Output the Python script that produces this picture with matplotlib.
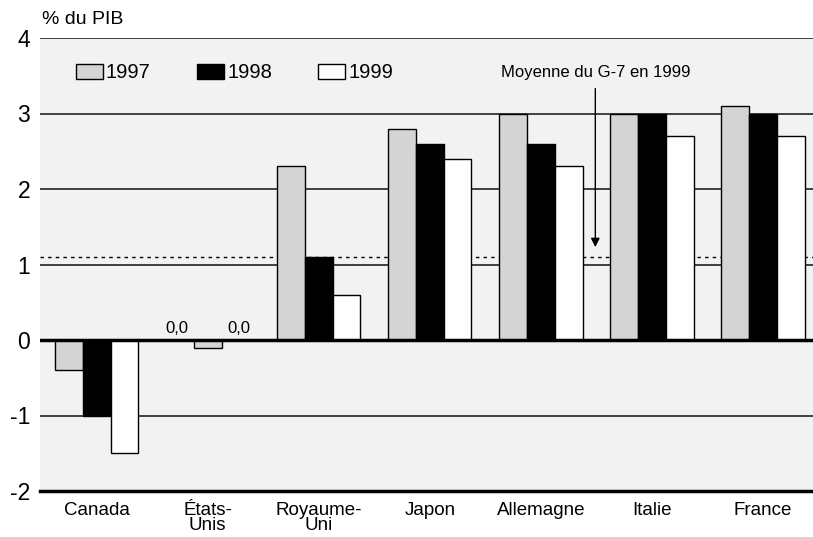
import matplotlib.pyplot as plt
import numpy as np

plt.rcParams['font.family'] = ['Liberation Sans', 'DejaVu Sans']
plt.rcParams['axes.unicode_minus'] = False

pays = ['Canada', 'États-\nUnis', 'Royaume-\nUni', 'Japon', 'Allemagne', 'Italie', 'France']
annees = ['1997', '1998', '1999']
v1997 = [-0.4, 0.0, 2.3, 2.8, 3.0, 3.0, 3.1]
v1998 = [-1.0, -0.1, 1.1, 2.6, 2.6, 3.0, 3.0]
v1999 = [-1.5, 0.0, 0.6, 2.4, 2.3, 2.7, 2.7]
moyenne_g7 = 1.1

couleurs = ['#d4d4d4', 'black', 'white']
series = [v1997, v1998, v1999]

fig = plt.figure(figsize=(8.13, 5.37), dpi=100)
ax = fig.add_axes([40/813, 1 - 491/537, 1 - 40/813, 453/537])
ax.set_facecolor('#f2f2f2')

x = np.arange(len(pays))
w = 0.25
barres = []
for i, (vals, c) in enumerate(zip(series, couleurs)):
    b = ax.bar(x + (i - 1) * w, vals, w, color=c, edgecolor='black', linewidth=1,
               label=annees[i], zorder=3)
    barres.append(b)
# dans l'original, la barre des États-Unis en 1998 est grise
barres[1][1].set_facecolor(couleurs[0])

# lignes horizontales
for y in [-1, 1, 2, 3, 4]:
    ax.axhline(y, color='#222222', linewidth=1.2, zorder=1)
ax.axhline(0, color='black', linewidth=2.5, zorder=4)
ax.axhline(moyenne_g7, color='black', linewidth=1, linestyle=(0, (2.5, 3)), zorder=2)

# valeurs nulles des États-Unis
for i, vals in enumerate(series):
    if vals[1] == 0:
        ax.text(x[1] + (i - 1) * w + (i - 1) * 0.03, 0.05, '0,0', ha='center', va='bottom',
                fontsize=12)

ax.annotate('Moyenne du G-7 en 1999', xy=(4.49, 1.23), xytext=(4.49, 3.54),
            ha='center', va='center', fontsize=12,
            arrowprops=dict(arrowstyle='-|>', color='black', lw=1, mutation_scale=13,
                            shrinkA=4, shrinkB=0))

ax.set_xlim(-0.51, 6.45)
ax.set_ylim(-2, 4)
ax.set_yticks([-2, -1, 0, 1, 2, 3, 4])
ax.set_xticks(x)
ax.set_xticklabels(pays, fontsize=13.5, linespacing=0.85)
ax.tick_params(axis='both', length=0)
ax.tick_params(axis='y', labelsize=16.5, pad=7)
ax.tick_params(axis='x', pad=8)

for s in ['left', 'right', 'top']:
    ax.spines[s].set_visible(False)
ax.spines['bottom'].set_linewidth(2.5)

fig.text(42/813, 1 - 20/537, '% du PIB', fontsize=14, ha='left', va='center')

ax.legend(loc='center left', bbox_to_anchor=(0.046, 0.923), ncol=3, frameon=False,
          fontsize=14.5, handlelength=1.35, handleheight=0.8, handletextpad=0.15,
          columnspacing=2.3, borderpad=0, borderaxespad=0)

fig.savefig('out.png', dpi=100)
